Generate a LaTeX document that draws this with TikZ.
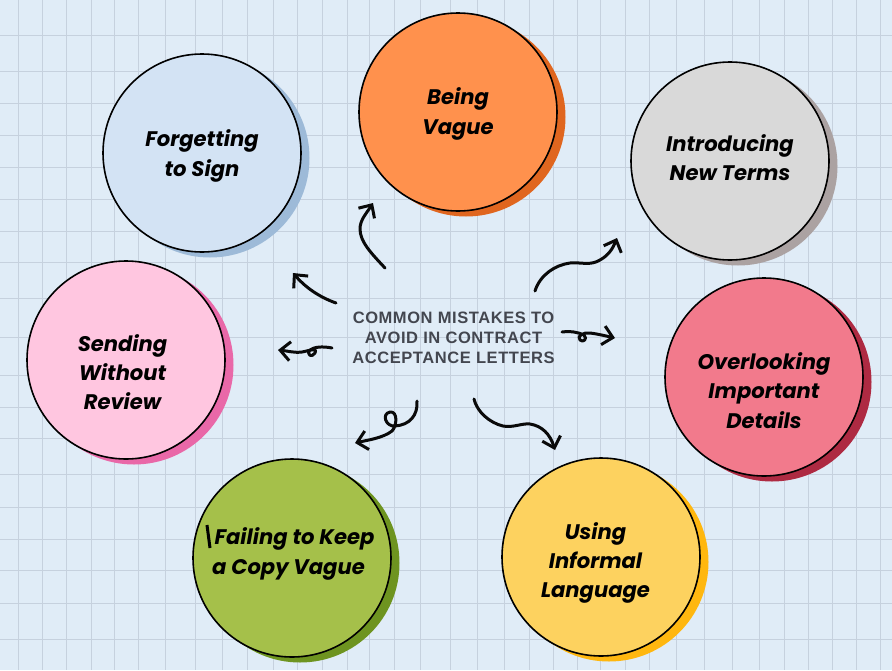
\documentclass[tikz,border=0pt]{standalone}
\usepackage{fontspec}
\setmainfont{Poppins}
\newfontfamily\centerfont[LetterSpace=3.5]{Liberation Sans}
\usetikzlibrary{arrows.meta}
\definecolor{paper}{HTML}{E0ECF7}
\definecolor{gridmajor}{HTML}{C6D1DE}
\definecolor{ink}{HTML}{0A0A0A}
\definecolor{headtext}{HTML}{43464F}
\definecolor{fblue}{HTML}{D3E3F4}\definecolor{sblue}{HTML}{9DBAD8}
\definecolor{forange}{HTML}{FF914D}\definecolor{sorange}{HTML}{E0661F}
\definecolor{fgray}{HTML}{D9D9D9}\definecolor{sgray}{HTML}{ABA2A2}
\definecolor{fred}{HTML}{F27A8C}\definecolor{sred}{HTML}{AE2A42}
\definecolor{fyellow}{HTML}{FDD25F}\definecolor{syellow}{HTML}{FFB70F}
\definecolor{fgreen}{HTML}{A5C04A}\definecolor{sgreen}{HTML}{6E9420}
\definecolor{fpink}{HTML}{FFC6E0}\definecolor{spink}{HTML}{E968A8}
\tikzset{
  x=1pt,y=-1pt,
  disc/.style={circle,draw=black,line width=1.6pt,minimum size=198pt,inner sep=0pt},
  disclabel/.style={inner sep=0pt,align=center,text=black,
    font=\fontsize{21.1}{29.3}\selectfont\bfseries\itshape},
  backdisc/.style={circle,minimum size=199pt,inner sep=0pt},
  swirl/.style={draw=ink,line width=3pt,line cap=round,line join=round,-{Straight Barb[length=10pt,width=19pt,line width=3pt]}},
  gridline/.style={draw=gridmajor,line width=.8pt},
  headline/.style={align=center,text=headtext,font=\centerfont\fontsize{16.5}{20}\selectfont\bfseries},
}
\begin{document}
\begin{tikzpicture}
\useasboundingbox (0,0) rectangle (892,670);
\fill[paper] (0,0) rectangle (892,670);
\foreach \gx in {18,42,66,91,114,138,165,195,222,247,273,297,322,347,369,394,420,450,477,504,529,553,577,600,625,649,676,704,732,759,784,808,832,856,880}
  \draw[gridline] (\gx,0) -- (\gx,670);
\foreach \gy in {35,71,103,135,167,199,231,262,298,337,375,407,438,474,507,539,570,603,639}
  \draw[gridline] (0,\gy) -- (892,\gy);
% shadows
\node[backdisc,fill=sblue] (s1) at (210,158) {};
\node[backdisc,fill=sorange] (s2) at (466,117) {};
\node[backdisc,fill=sgray] (s3) at (738,166) {};
\node[backdisc,fill=sred] (s4) at (772,382) {};
\node[backdisc,fill=syellow] (s5) at (609,562) {};
\node[backdisc,fill=sgreen] (s6) at (300,563) {};
\node[backdisc,fill=spink] (s7) at (134,365) {};
% discs
\node[disc,fill=fblue] (forget) at (202,153) {};
\node[disc,fill=forange] (vague) at (458,112) {};
\node[disc,fill=fgray] (terms) at (730,161) {};
\node[disc,fill=fred] (details) at (764,377) {};
\node[disc,fill=fyellow] (informal) at (601,557) {};
\node[disc,fill=fgreen] (copy) at (292,558) {};
\node[disc,fill=fpink] (review) at (126,360) {};
% disc labels
\node[disclabel] (forgetT) at (202,156) {Forgetting\\to Sign};
\node[disclabel] (vagueT) at (458,114) {Being\\Vague};
\node[disclabel] (termsT) at (730,157.5) {Introducing\\New Terms};
\node[disclabel] (detailsT) at (764,390.5) {Overlooking\\Important\\Details};
\node[disclabel] (informalT) at (595.5,563) {Using\\Informal\\Language};
\node[disclabel] (copyT) at (288.5,554) {\hspace*{12pt}Failing to Keep\\a Copy Vague};
\node[disclabel] (reviewT) at (122.5,372) {Sending\\Without\\Review};
\draw[black,line width=3pt] (207,525) -- (210,548);
% centre
\node[headline] (title) at (453.5,338) {COMMON MISTAKES TO\\AVOID IN CONTRACT\\ACCEPTANCE LETTERS};
% arrows
\coordinate (a1s) at (385,268); \coordinate (a1e) at (373,203);
\coordinate (a2s) at (336,303); \coordinate (a2e) at (293,273);
\coordinate (a3s) at (332,348); \coordinate (a3e) at (278,350);
\coordinate (a4s) at (417,401); \coordinate (a4e) at (355,443);
\coordinate (a5s) at (474,399); \coordinate (a5e) at (555,450);
\coordinate (a6s) at (562,332); \coordinate (a6e) at (615,338);
\coordinate (a7s) at (535,291); \coordinate (a7e) at (617,238);
\draw[swirl] (a1s) .. controls (372,254) and (360,242) .. (360,229)
  .. controls (360,220) and (366,214) .. (a1e);
\draw[swirl] (a2s) .. controls (319,297) and (305,287) .. (a2e);
\draw[swirl] (a3s) .. controls (322,346) and (314,347) .. (310,350)
  .. controls (306,355) and (312,358) .. (315,353)
  .. controls (318,347) and (308,351) .. (302,352)
  .. controls (294,353) and (288,351) .. (a3e);
\draw[swirl] (a4s) .. controls (418,415) and (410,425) .. (395,426)
  .. controls (386,427) and (381,414) .. (390,412)
  .. controls (398,411) and (397,426) .. (392,431)
  .. controls (383,438) and (368,440) .. (a4e);
\draw[swirl] (a5s) .. controls (477,412) and (490,423) .. (503,426)
  .. controls (513,428) and (522,423) .. (530,424)
  .. controls (542,426) and (550,434) .. (a5e);
\draw[swirl] (a6s) .. controls (570,331) and (578,332) .. (584,335)
  .. controls (588,339) and (583,343) .. (580,340)
  .. controls (576,336) and (584,332) .. (590,333)
  .. controls (598,334) and (606,336) .. (a6e);
\draw[swirl] (a7s) .. controls (540,275) and (555,265) .. (570,263)
  .. controls (582,262) and (590,266) .. (600,260)
  .. controls (609,255) and (613,248) .. (a7e);
\end{tikzpicture}
\end{document}
